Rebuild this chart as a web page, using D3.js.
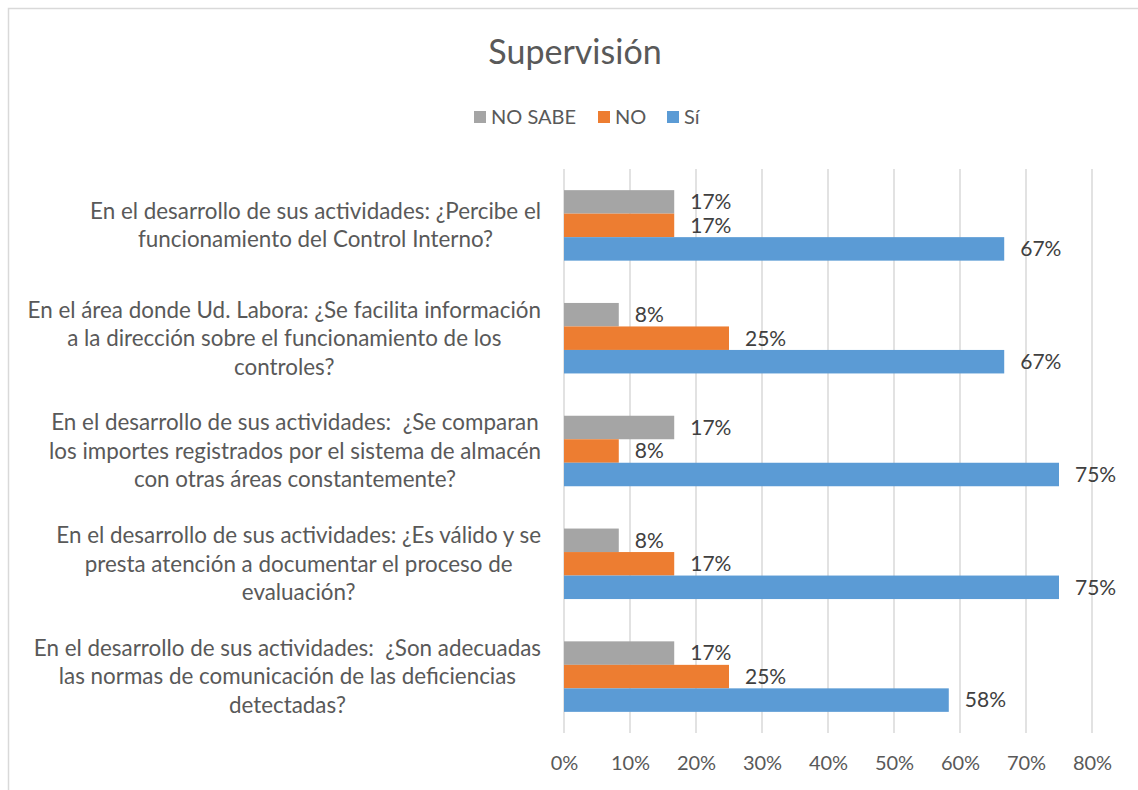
<!DOCTYPE html>
<html>
<head>
<meta charset="utf-8">
<script src="https://cdn.jsdelivr.net/npm/d3@7"></script>
<style>
    body { margin: 0; background: #ffffff; }
    svg { display: block; font-family: Lato, "Open Sans", sans-serif; }
    text { white-space: pre; }
</style>
</head>
<body>
<svg id="chart" width="1138" height="790"></svg>
<script>
// Data
const title = "Supervisión";
const categories = [
    ["En el desarrollo de sus actividades: ¿Percibe el", "funcionamiento del Control Interno?"],
    ["En el área donde Ud. Labora: ¿Se facilita información", "a la dirección sobre el funcionamiento de los", "controles?"],
    ["En el desarrollo de sus actividades:  ¿Se comparan", "los importes registrados por el sistema de almacén", "con otras áreas constantemente?"],
    ["En el desarrollo de sus actividades: ¿Es válido y se", "presta atención a documentar el proceso de", "evaluación?"],
    ["En el desarrollo de sus actividades:  ¿Son adecuadas", "las normas de comunicación de las deficiencias", "detectadas?"],
];
const seriesNames = ["NO SABE", "NO", "Sí"];
const seriesColors = ["#a5a5a5", "#ed7d31", "#5b9bd5"];
const noSabe = [16.7, 8.3, 16.7, 8.3, 16.7];
const no = [16.7, 25, 8.3, 16.7, 25];
const si = [66.7, 66.7, 75, 75, 58.3];
const xTicks = [0, 10, 20, 30, 40, 50, 60, 70, 80];

const values = [noSabe, no, si];
const textColor = "#595959";
const fs = "20px";

const svg = d3.select("#chart");

// chart border
svg.append("rect")
    .attr("x", 8.5).attr("y", 8.5)
    .attr("width", 1200).attr("height", 900)
    .attr("fill", "#fff")
    .attr("stroke", "#d9d9d9")
    .attr("stroke-width", 1.5);

const plot = { left: 564, right: 1092, top: 169, bottom: 733 };

const x = d3.scaleLinear().domain([0, 80]).range([plot.left, plot.right]);
const y = d3.scaleBand()
    .domain(d3.range(categories.length))
    .range([plot.top, plot.bottom])
    .paddingInner(0.375)
    .paddingOuter(0.1875);
const ySub = d3.scaleBand()
    .domain(d3.range(seriesNames.length))
    .range([0, y.bandwidth()]);

// title
svg.append("text")
    .attr("x", 575).attr("y", 52)
    .attr("dy", "0.35em")
    .attr("text-anchor", "middle")
    .attr("fill", textColor)
    .style("font-size", "34px")
    .text(title);

// legend
const legendX = [474, 598, 667];
const legend = svg.append("g");
seriesNames.forEach((name, i) => {
    legend.append("rect")
        .attr("x", legendX[i]).attr("y", 111)
        .attr("width", 12).attr("height", 12)
        .attr("fill", seriesColors[i]);
    legend.append("text")
        .attr("x", legendX[i] + 17).attr("y", 117)
        .attr("dy", "0.35em")
        .attr("fill", textColor)
        .style("font-size", fs)
        .text(name);
});

// gridlines
svg.append("g")
    .selectAll("line")
    .data(xTicks)
    .join("line")
    .attr("x1", (d) => x(d)).attr("x2", (d) => x(d))
    .attr("y1", plot.top).attr("y2", plot.bottom)
    .attr("stroke", "#d9d9d9")
    .attr("stroke-width", 1.5);

// x axis
const xAxis = svg.append("g")
    .attr("transform", `translate(0,${plot.bottom})`)
    .call(d3.axisBottom(x).tickValues(xTicks).tickFormat((d) => d + "%").tickSize(0).tickPadding(23));
xAxis.select(".domain").remove();
xAxis.selectAll("text")
    .attr("fill", textColor)
    .style("font-family", "Lato, 'Open Sans', sans-serif")
    .style("font-size", fs);

// category labels
const labelRight = 541;
const lineH = 28.5;
categories.forEach((lines, ci) => {
    const g = svg.append("g");
    const cy = y(ci) + y.bandwidth() / 2;
    const texts = lines.map((line, li) =>
        g.append("text")
            .attr("y", cy + (li - (lines.length - 1) / 2) * lineH)
            .attr("dy", "0.35em")
            .attr("text-anchor", "middle")
            .attr("fill", textColor)
            .style("font-size", "22.4px")
            .text(line)
    );
    const maxW = d3.max(texts, (t) => t.node().getComputedTextLength());
    texts.forEach((t) => t.attr("x", labelRight - maxW / 2));
});

// bars
seriesNames.forEach((name, si2) => {
    const g = svg.append("g");
    g.selectAll("rect")
        .data(values[si2])
        .join("rect")
        .attr("x", x(0))
        .attr("y", (d, i) => y(i) + ySub(si2))
        .attr("width", (d) => x(d) - x(0))
        .attr("height", ySub.bandwidth())
        .attr("fill", seriesColors[si2]);
    g.selectAll("text")
        .data(values[si2])
        .join("text")
        .attr("x", (d) => x(d) + 16)
        .attr("y", (d, i) => y(i) + ySub(si2) + ySub.bandwidth() / 2)
        .attr("dy", "0.35em")
        .attr("fill", "#404040")
        .style("font-size", "21px")
        .text((d) => Math.round(d) + "%");
});
</script>
</body>
</html>
